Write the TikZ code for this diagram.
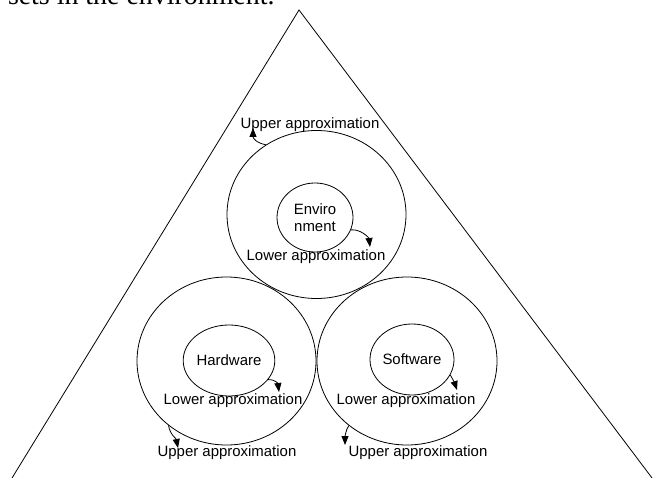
\documentclass[tikz,border=0pt]{standalone}
\usepackage{fontspec}
\setmainfont{Liberation Sans}
\newfontfamily\headserif{Liberation Serif}
\usetikzlibrary{shapes.geometric,arrows.meta}
\begin{document}
\begin{tikzpicture}[x=1bp,y=-1bp,
  ring/.style={draw,ellipse,line width=0.8bp,inner sep=0pt,align=center,
    font=\fontsize{15}{17}\selectfont},
  lbl/.style={font=\fontsize{15}{17}\selectfont,inner sep=0pt},
  pointer/.style={line width=0.8bp,-{Triangle[length=9bp,width=7bp]}},
  side/.style={line width=0.8bp}]
\useasboundingbox (0,0) rectangle (661,478);
\begin{scope}
\clip (0,0) rectangle (661,478);
% running text above the figure, cut by the frame
\node[anchor=base west,inner sep=0pt,outer sep=0pt,font=\headserif\fontsize{28}{30}\selectfont]
  (caption) at (8,4.3) {sets in the environment.};
% the enclosing triangle
\coordinate (apex) at (299,10);
\coordinate (baseL) at (11.4,479);
\coordinate (baseR) at (652.8,479);
\draw[side] (baseL) -- (apex) -- (baseR);
\end{scope}

% outer rings
\node[ring,minimum width=179bp,minimum height=168bp] (envOuter) at (316.5,214.5) {};
\node[ring,minimum width=179bp,minimum height=168bp] (hwOuter) at (226.5,361) {};
\node[ring,minimum width=180bp,minimum height=168bp] (swOuter) at (407,361) {};

% inner sets
\node[ring,minimum width=76bp,minimum height=69bp] (envInner) at (315,217.5) {Enviro\\nment};
\node[ring,minimum width=84bp,minimum height=71bp] (hwInner) at (229,360.5) {Hardware};
\node[ring,minimum width=84bp,minimum height=71bp] (swInner) at (412,359.5) {Software};

% labels
\node[lbl] (envUp) at (310,124.5) {Upper approximation};
\node[lbl] (envLow) at (316,257) {Lower approximation};
\node[lbl] (hwLow) at (233,401) {Lower approximation};
\node[lbl] (hwUp) at (227,452.5) {Upper approximation};
\node[lbl] (swLow) at (406,401) {Lower approximation};
\node[lbl] (swUp) at (418,452.5) {Upper approximation};

% arrow ends
\coordinate (envUpTip) at (253,128);
\coordinate (envLowTip) at (370,247);
\coordinate (hwLowTip) at (279,392);
\coordinate (hwUpTip) at (178,448);
\coordinate (swLowTip) at (457,390);
\coordinate (swUpTip) at (345,445);

\draw[pointer] (envOuter.126) .. controls +(-10,-2) and +(0,10) .. (envUpTip);
\draw[pointer] (envInner.341) .. controls +(10,-1) and +(-1,-9) .. (envLowTip);
\draw[pointer] (hwInner.334) .. controls +(8,0) and +(-1,-8) .. (hwLowTip);
\draw[pointer] (hwOuter.228) .. controls +(2,10) and +(-2,-10) .. (hwUpTip);
\draw[pointer] (swInner.338) .. controls +(3,5) and +(-2,-6) .. (swLowTip);
\draw[pointer] (swOuter.228) .. controls +(-3,4) and +(0,-8) .. (swUpTip);
\end{tikzpicture}
\end{document}
